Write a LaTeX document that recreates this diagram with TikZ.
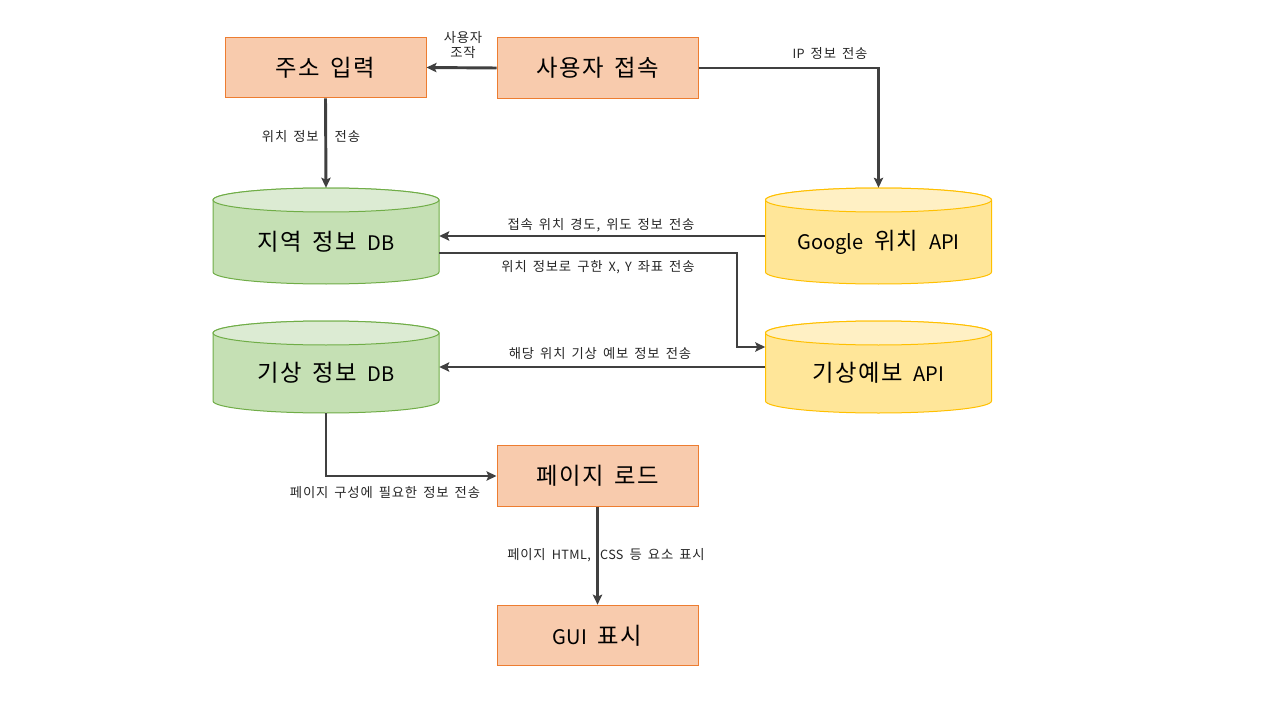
\documentclass[tikz,border=0pt]{standalone}
\usepackage{fontspec}
\setmainfont{Noto Sans CJK KR}[LetterSpace=6, WordSpace=1.6]
\newfontfamily\latfont{Noto Sans CJK KR}[Scale=0.86, WordSpace=1.6]
\newfontfamily\latsmallfont{Noto Sans CJK KR}[Scale=0.95, LetterSpace=3, WordSpace=1.6]
\newcommand\lat[1]{{\latfont #1}}
\newcommand\lats[1]{{\latsmallfont #1}}
\usetikzlibrary{arrows.meta}
\definecolor{boxfill}{HTML}{F8CBAD}
\definecolor{boxline}{HTML}{ED7D31}
\definecolor{gfill}{HTML}{C5E0B4}
\definecolor{gtop}{HTML}{DCEBD3}
\definecolor{gline}{HTML}{70AD47}
\definecolor{yfill}{HTML}{FFE699}
\definecolor{ytop}{HTML}{FFF0C4}
\definecolor{yline}{HTML}{FFC000}
\definecolor{arrcol}{HTML}{404040}
\newcommand\drawcyl[6]{%
  \filldraw[fill=#4, draw=#6, line width=0.75pt]
    (#1-113,-#2+#3) -- (#1-113,-#2-#3)
    arc[start angle=180, end angle=360, x radius=84.75pt, y radius=9pt]
    -- (#1+113,-#2+#3)
    arc[start angle=0, end angle=180, x radius=84.75pt, y radius=9pt] -- cycle;
  \filldraw[fill=#5, draw=#6, line width=0.75pt] (#1,-#2+#3) ellipse[x radius=84.75pt, y radius=9pt];
}
\begin{document}
\begin{tikzpicture}[x=0.75pt,y=0.75pt,
  procbox/.style={draw=boxline, fill=boxfill, line width=0.75pt, minimum width=150.75pt, minimum height=45.5pt, inner sep=0pt, font=\fontsize{17.5}{21}\selectfont},
  cylnode/.style={minimum width=169.5pt, inner sep=0pt},
  cyltext/.style={font=\fontsize{17.5}{21}\selectfont, yshift=-4.5pt, inner sep=0pt},
  conn/.style={draw=arrcol, line width=2.2pt, -{Stealth[length=7.5pt,width=7pt,inset=1.5pt]}},
  lbl/.style={font=\fontsize{10}{11.5}\selectfont, inner sep=1pt, text=black!85, align=center}
]
\useasboundingbox (0,0) rectangle (1280,-720);
\fill[white] (0,0) rectangle (1280,-720);

% process boxes
\node[procbox] (addr) at (325.5,-67.5) {주소 입력};
\node[procbox] (sa) at (597.5,-68) {사용자 접속};
\node[procbox] (pl) at (597.5,-476) {페이지 로드};
\node[procbox] (gui) at (597.5,-635.5) {\lat{GUI} 표시};

% cylinders
\drawcyl{326}{236}{36}{gfill}{gtop}{gline}
\node[cylnode, minimum height=72pt, label={[cyltext]center:지역 정보 \lat{DB}}] (ldb) at (326,-236) {};
\drawcyl{878.5}{236}{36}{yfill}{ytop}{yline}
\node[cylnode, minimum height=72pt, label={[cyltext]center:\lat{Google} 위치 \lat{API}}] (goo) at (878.5,-236) {};
\drawcyl{326}{367}{34}{gfill}{gtop}{gline}
\node[cylnode, minimum height=69pt, label={[cyltext]center:기상 정보 \lat{DB}}] (wdb) at (326,-367) {};
\drawcyl{878.5}{367}{34}{yfill}{ytop}{yline}
\node[cylnode, minimum height=69pt, label={[cyltext]center:기상예보 \lat{API}}] (fc) at (878.5,-367) {};

\coordinate (bend) at (737,-300);

% connectors
\draw[conn] (sa.west) -- (addr.east);
\draw[conn] (addr.south) -- (ldb.north);
\draw[conn] (sa.east) -| (goo.north);
\draw[conn] (goo.west) -- (ldb.east);
\draw[conn] ([yshift=-12.75pt]ldb.east) -| (bend) |- ([yshift=15pt]fc.west);
\draw[conn] (fc.west) -- (wdb.east);
\draw[conn] (wdb.south) |- (pl.west);
\draw[conn] (pl.south) -- (gui.north);

% labels
\node[lbl] (l1) at (463,-45) {사용자\\조작};
\node[lbl] (l2) at (311,-137) {위치 정보\hspace{12pt}전송};
\node[lbl] (l3) at (830,-54) {\lats{IP} 정보 전송};
\node[lbl] (l4) at (601,-225) {접속 위치 경도, 위도 정보 전송};
\node[lbl] (l5) at (598,-267) {위치 정보로 구한 \lats{X, Y} 좌표 전송};
\node[lbl] (l6) at (600,-354) {해당 위치 기상 예보 정보 전송};
\node[lbl] (l7) at (385,-493) {페이지 구성에 필요한 정보 전송};
\node[lbl] (l8) at (606,-555) {페이지 \lats{HTML,}\hspace{7pt}\lats{CSS} 등 요소 표시};
\end{tikzpicture}
\end{document}
